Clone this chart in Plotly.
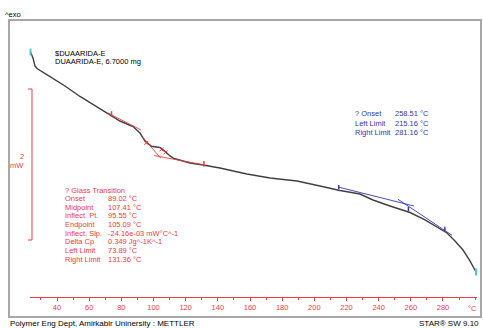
import numpy as np
import plotly.graph_objects as go

# ---- DSC measurement: sample temperature (°C) vs heat flow (mW, exo up) ----
temperature_c = [23.52, 25.08, 26.32, 27.56, 35.65, 44.97, 54.30, 66.74, 72.95, 79.17,
                 87.25, 91.61, 94.72, 98.76, 101.56, 104.04, 107.15, 110.26, 112.75, 116.48,
                 122.70, 130.78, 141.35, 153.78, 158.14, 172.44, 189.23, 203.53, 215.96, 228.40,
                 236.48, 247.05, 259.49, 268.82, 278.14, 282.49, 287.47, 292.44, 296.79, 300.52]
heat_flow_mw = [0.000, -0.079, -0.185, -0.219, -0.325, -0.450, -0.589, -0.748, -0.828, -0.914,
                -0.987, -1.073, -1.179, -1.249, -1.258, -1.265, -1.315, -1.377, -1.411, -1.437,
                -1.470, -1.497, -1.536, -1.596, -1.616, -1.669, -1.709, -1.775, -1.834, -1.881,
                -1.960, -2.040, -2.126, -2.225, -2.344, -2.397, -2.503, -2.623, -2.768, -2.914]

# ---- glass transition evaluation (red) ----
tg_labels = ["Onset", "Midpoint", "Inflect. Pt.", "Endpoint", "Inflect. Slp.",
             "Delta Cp", "Left Limit", "Right Limit"]
tg_values = ["89.02 °C", "107.41 °C", "95.55 °C", "105.09 °C", "-24.16e-03 mW°C^-1",
             "0.349 Jg^-1K^-1", "73.89 °C", "131.36 °C"]
tg_onset, tg_mid, tg_inflect, tg_end = 89.02, 107.41, 95.55, 105.09
tg_left, tg_right = 73.89, 131.36
# construction lines: [T start, T end], [HF start, HF end]
tg_base1_t, tg_base1_hf = [71.71, 92.23], [-0.808, -1.033]
tg_tang_t, tg_tang_hf = [93.47, 104.66], [-1.132, -1.411]
tg_base2_t, tg_base2_hf = [100.31, 132.02], [-1.371, -1.497]

# ---- onset evaluation (blue) ----
on_labels = ["? Onset", "Left Limit", "Right Limit"]
on_values = ["258.51 °C", "215.16 °C", "281.16 °C"]
on_onset, on_left, on_right = 258.51, 215.16, 281.16
on_base_t, on_base_hf = [214.72, 261.97], [-1.788, -2.040]
on_tang_t, on_tang_hf = [252.02, 285.60], [-1.951, -2.428]

# ---- x axis ticks ----
tick_vals = list(range(40, 300, 20))
tick_text = [str(v) for v in tick_vals]
scale_bar_mw = 2

# ---- page geometry ----
W, H = 483, 328
X_PX_40, PX_PER_C = 57.0, 1.6083      # 40 °C sits at x=57 px
HF0_PX, PX_PER_MW = 52.0, 75.5         # 0 mW sits at y=52 px


def t_at(xpx):
    return 40 + (xpx - X_PX_40) / PX_PER_C


def hf_at(ypx):
    return (HF0_PX - ypx) / PX_PER_MW


def fx(x):
    return x / W


def fy(y):
    return 1 - y / H


RED = "#ea3c44"
BLUE = "#3636aa"
FRAME = "#a8a8a8"
FONT = "Liberation Sans, Arial, sans-serif"

fig = go.Figure()

curve_t = np.array(temperature_c)
curve_hf = np.array(heat_flow_mw)

fig.add_trace(go.Scatter(x=curve_t, y=curve_hf, mode="lines",
                         line=dict(color="#404040", width=1.4), hoverinfo="skip"))
# start / end markers
fig.add_trace(go.Scatter(x=[curve_t[0], curve_t[-1]], y=[curve_hf[0], curve_hf[-1]],
                         mode="markers", cliponaxis=False,
                         marker=dict(symbol="line-ns", size=5, color="#52c6d0",
                                     line=dict(color="#52c6d0", width=2))))

# glass transition construction
for tt, hh in [(tg_base1_t, tg_base1_hf), (tg_tang_t, tg_tang_hf), (tg_base2_t, tg_base2_hf)]:
    fig.add_trace(go.Scatter(x=tt, y=hh, mode="lines", line=dict(color=RED, width=0.9)))
tg_pts = [tg_inflect, tg_mid, tg_end]
fig.add_trace(go.Scatter(x=tg_pts, y=np.interp(tg_pts, curve_t, curve_hf) - 0.01, mode="markers",
                         marker=dict(symbol="x-thin", size=4, color=RED,
                                     line=dict(color=RED, width=1))))
lim_t = [tg_left, tg_right]
fig.add_trace(go.Scatter(x=lim_t, y=np.interp(lim_t, curve_t, curve_hf) + 0.02, mode="markers",
                         marker=dict(symbol="line-ns", size=4, color=RED,
                                     line=dict(color=RED, width=1.5))))

# onset construction
for tt, hh in [(on_base_t, on_base_hf), (on_tang_t, on_tang_hf)]:
    fig.add_trace(go.Scatter(x=tt, y=hh, mode="lines", line=dict(color=BLUE, width=0.9)))
on_pts = [on_left, on_onset, on_right]
fig.add_trace(go.Scatter(x=on_pts, y=np.interp(on_pts, curve_t, curve_hf) + 0.04, mode="markers",
                         marker=dict(symbol="line-ns", size=3, color=BLUE,
                                     line=dict(color=BLUE, width=1.5))))

shapes = [
    # outer frame
    dict(type="rect", xref="paper", yref="paper", x0=fx(9), x1=fx(481), y0=fy(317), y1=fy(20),
         line=dict(color=FRAME, width=2)),
    # 2 mW scale bar
    dict(type="line", xref="paper", yref="y", x0=fx(32), x1=fx(32),
         y0=hf_at(240), y1=hf_at(240) + scale_bar_mw, line=dict(color=RED, width=1)),
    dict(type="line", xref="paper", yref="y", x0=fx(28), x1=fx(32),
         y0=hf_at(240) + scale_bar_mw, y1=hf_at(240) + scale_bar_mw, line=dict(color=RED, width=1)),
    dict(type="line", xref="paper", yref="y", x0=fx(28), x1=fx(32),
         y0=hf_at(240), y1=hf_at(240), line=dict(color=RED, width=1)),
]

ann = []


def text(x, y, s, color="black", size=7.5, anchor="left"):
    ann.append(dict(x=fx(x), y=fy(y), xref="paper", yref="paper", text=s, showarrow=False,
                    xanchor=anchor, yanchor="middle", font=dict(family=FONT, size=size, color=color)))


text(3, 14, "^exo")
text(53, 53, "$DUAARIDA-E")
text(53, 62, "DUAARIDA-E, 6.7000 mg")
text(26, 156, str(scale_bar_mw), RED, anchor="right")
text(26, 165, "mW", RED, anchor="right")

text(63, 190, "? Glass Transition", RED)
for i, (lab, val) in enumerate(zip(tg_labels, tg_values)):
    yy = 198.5 + i * 8.65
    text(63, yy, lab, RED)
    text(106, yy, val, RED)

for i, (lab, val) in enumerate(zip(on_labels, on_values)):
    yy = 114 + i * 9
    text(353, yy, lab, BLUE)
    text(393, yy, val, BLUE)

text(472, 308, "°C", RED, anchor="center")
text(8, 323, "Polymer Eng Dept, Amirkabir Uninersity : METTLER", size=8)
text(481, 323, "STAR® SW 9.10", size=8, anchor="right")

fig.update_layout(
    width=W, height=H, margin=dict(l=0, r=0, t=0, b=0),
    paper_bgcolor="white", plot_bgcolor="white", showlegend=False,
    shapes=shapes, annotations=ann,
    xaxis=dict(domain=[fx(30), fx(477)], range=[t_at(30), t_at(477)],
               anchor="free", position=fy(297),
               showline=True, linecolor=RED, linewidth=1,
               tickmode="array", tickvals=tick_vals, ticktext=tick_text,
               ticks="outside", ticklen=3, tickcolor=RED, tickwidth=1,
               minor=dict(dtick=10, tick0=0, ticks="outside", ticklen=2, tickcolor=RED),
               tickfont=dict(family=FONT, size=7.5, color=RED),
               showgrid=False, zeroline=False, fixedrange=True),
    yaxis=dict(domain=[0, 1], range=[hf_at(H), hf_at(0)], visible=False,
               showgrid=False, zeroline=False, fixedrange=True),
)

fig.write_html("out.html")
